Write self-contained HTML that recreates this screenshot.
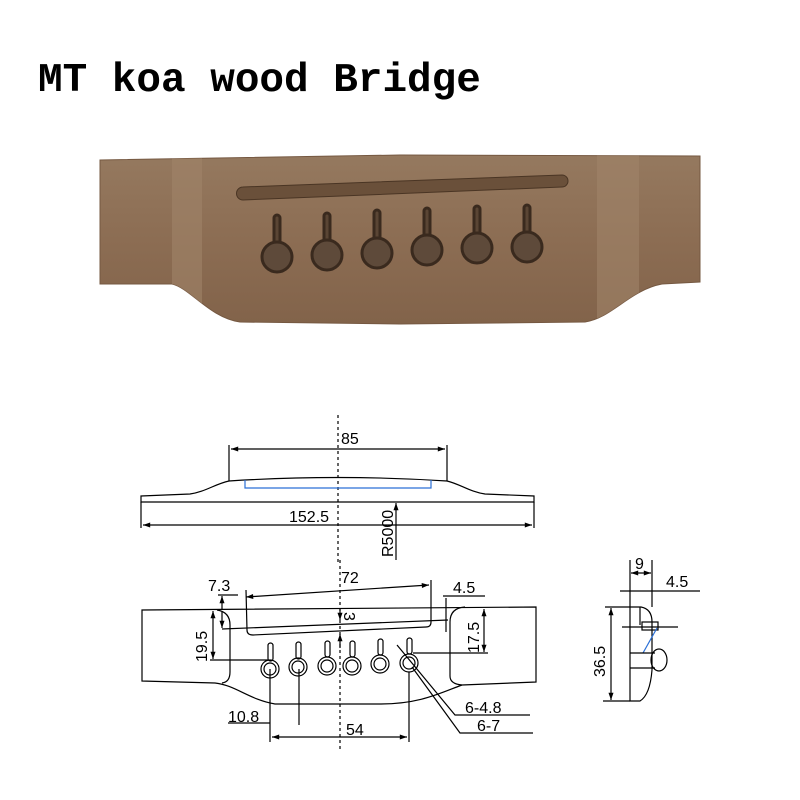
<!DOCTYPE html>
<html><head><meta charset="utf-8"><style>
html,body{margin:0;padding:0;background:#fff;width:800px;height:800px;overflow:hidden}
svg{display:block}
</style></head><body>
<svg width="800" height="800" viewBox="0 0 800 800" xmlns="http://www.w3.org/2000/svg">
<defs>
<linearGradient id="wood" x1="0" y1="0" x2="0" y2="1">
<stop offset="0" stop-color="#95795f"/><stop offset="0.5" stop-color="#8c6d53"/><stop offset="1" stop-color="#82634a"/>
</linearGradient>
<clipPath id="bc"><path d="M100,160 L400,155 L700,156 L700,282 L662,284 C630,290 612,318 585,322 L400,324 L240,322 C210,318 190,288 172,284 L100,284 Z"/></clipPath>
<marker id="a" viewBox="0 0 10 10" refX="10" refY="5" markerWidth="8" markerHeight="6" orient="auto-start-reverse"><path d="M0,1.5L10,5L0,8.5z" fill="#000"/></marker>
</defs>
<text x="38" y="91" font-family="Liberation Mono, monospace" font-size="41" font-weight="bold" fill="#000">MT koa wood Bridge</text>

<!-- photo bridge -->
<path d="M100,160 L400,155 L700,156 L700,282 L662,284 C630,290 612,318 585,322 L400,324 L240,322 C210,318 190,288 172,284 L100,284 Z" fill="url(#wood)" stroke="#755841" stroke-width="1"/>
<g clip-path="url(#bc)">
<rect x="172" y="150" width="30" height="180" fill="#a08469" opacity="0.6"/>
<rect x="597" y="150" width="42" height="180" fill="#a08469" opacity="0.6"/>
</g>
<path d="M243,187 L562,175 A6,6 0 0 1 562,187 L243,200 A6.5,6.5 0 0 1 243,187Z" fill="#6a503a" stroke="#4a3524"/>
<g stroke="#3a2a1e" stroke-width="3">
<g fill="#5a4534">
<rect x="274" y="215" width="6" height="40" rx="3"/><rect x="324" y="213" width="6" height="40" rx="3"/><rect x="374" y="210" width="6" height="40" rx="3"/><rect x="424" y="208" width="6" height="40" rx="3"/><rect x="474" y="206" width="6" height="40" rx="3"/><rect x="524" y="205" width="6" height="40" rx="3"/>
</g>
<g fill="#5e4a3a">
<circle cx="277" cy="257" r="15"/><circle cx="327" cy="255" r="15"/><circle cx="377" cy="253" r="15"/><circle cx="427" cy="250" r="15"/><circle cx="477" cy="248" r="15"/><circle cx="527" cy="247" r="15"/>
</g>
</g>

<g fill="none" stroke="#000" stroke-width="1.2">
<!-- top view -->
<line x1="338" y1="415" x2="338" y2="562" stroke-dasharray="3,3"/>
<path d="M141,496 L190,494 C205,492 215,484 229,481 Q338,474 447,481 C460,484 470,492 485,494 L534,496 L534,502 L141,502 Z"/>
<path d="M245,480 L245,488 L431,488 L431,480" stroke="#2a6fd6"/>
<line x1="229" y1="445" x2="229" y2="481"/><line x1="447" y1="445" x2="447" y2="481"/>
<line x1="231" y1="449" x2="445" y2="449" marker-start="url(#a)" marker-end="url(#a)"/>
<line x1="141" y1="502" x2="141" y2="528"/><line x1="534" y1="502" x2="534" y2="528"/>
<line x1="143" y1="525" x2="532" y2="525" marker-start="url(#a)" marker-end="url(#a)"/>
<line x1="396" y1="560" x2="396" y2="503" marker-end="url(#a)"/>

<!-- bottom view -->
<line x1="340" y1="560" x2="340" y2="752" stroke-dasharray="3,3"/>
<path d="M142,610 L536,607 L536,682 L462,685 C440,693 420,704 380,704 L275,704 C250,700 235,685 215,683 L142,681 Z"/>
<path d="M217,610 Q230,612 230,625 L230,672 Q230,682 222,683"/>
<path d="M465,607 Q450,608 450,622 L450,676 Q450,684 462,685"/>
<path d="M246,590 L247,630 Q247,635 253,635 L426,627 Q431,627 431,622 L431,580"/>
<line x1="246" y1="597" x2="429" y2="585" marker-start="url(#a)" marker-end="url(#a)"/>
<line x1="222" y1="629" x2="448" y2="620"/>
<line x1="218" y1="595" x2="238" y2="595"/><line x1="222" y1="610" x2="222" y2="596" marker-end="url(#a)"/><line x1="222" y1="612" x2="222" y2="628" marker-end="url(#a)"/>
<line x1="443" y1="596" x2="485" y2="596"/><line x1="446" y1="598" x2="446" y2="632"/>
<line x1="213" y1="611" x2="213" y2="659" marker-start="url(#a)" marker-end="url(#a)"/>
<line x1="210" y1="660" x2="268" y2="660"/>
<line x1="484" y1="609" x2="484" y2="652" marker-start="url(#a)" marker-end="url(#a)"/>
<line x1="413" y1="653" x2="488" y2="653"/>
<line x1="340" y1="608" x2="340" y2="620" marker-end="url(#a)"/><line x1="340" y1="648" x2="340" y2="634" marker-end="url(#a)"/>
<g>
<rect x="268" y="643" width="5" height="18" rx="2.5"/><circle cx="270" cy="669" r="9"/><circle cx="270" cy="669" r="6"/>
<rect x="296" y="642" width="5" height="17" rx="2.5"/><circle cx="298" cy="667" r="9"/><circle cx="298" cy="667" r="6"/>
<rect x="325" y="641" width="5" height="16" rx="2.5"/><circle cx="327" cy="666" r="9"/><circle cx="327" cy="666" r="6"/>
<rect x="350" y="641" width="5" height="16" rx="2.5"/><circle cx="352" cy="666" r="9"/><circle cx="352" cy="666" r="6"/>
<rect x="378" y="639" width="5" height="16" rx="2.5"/><circle cx="380" cy="664" r="9"/><circle cx="380" cy="664" r="6"/>
<rect x="407" y="638" width="5" height="16" rx="2.5"/><circle cx="409" cy="663" r="9"/><circle cx="409" cy="663" r="6"/>
</g>
<line x1="270" y1="669" x2="270" y2="742"/><line x1="299" y1="669" x2="299" y2="725"/>
<line x1="228" y1="723" x2="270" y2="723"/>
<line x1="409" y1="672" x2="409" y2="742"/>
<line x1="272" y1="737" x2="407" y2="737" marker-start="url(#a)" marker-end="url(#a)"/>
<polyline points="397,645 455,715 530,715"/><polyline points="412,667 460,733 533,733"/>

<!-- side view -->
<path d="M630,607 L641,607 Q652,609 652,622 L652,670 Q650,695 640,701 L630,701 Z"/>
<line x1="640" y1="607" x2="640" y2="625"/>
<rect x="642" y="622" width="16" height="8"/>
<line x1="622" y1="627" x2="678" y2="627"/>
<line x1="657" y1="628" x2="643" y2="653" stroke="#2a6fd6"/>
<line x1="630" y1="653" x2="655" y2="653"/><line x1="630" y1="668" x2="655" y2="668"/>
<ellipse cx="659" cy="660" rx="8" ry="11"/>
<line x1="630" y1="560" x2="630" y2="607"/><line x1="652" y1="560" x2="652" y2="607"/>
<line x1="631" y1="573" x2="651" y2="573" marker-start="url(#a)" marker-end="url(#a)"/>
<line x1="620" y1="591" x2="700" y2="591"/>
<line x1="611" y1="608" x2="611" y2="700" marker-start="url(#a)" marker-end="url(#a)"/>
<line x1="605" y1="607" x2="630" y2="607"/><line x1="603" y1="701" x2="630" y2="701"/>
</g>

<g font-family="Liberation Sans, Arial, sans-serif" font-size="16" fill="#000">
<text x="341" y="444">85</text>
<text x="289" y="522">152.5</text>
<text transform="translate(393,557) rotate(-90)">R5000</text>
<text x="341" y="583">72</text>
<text x="208" y="591">7.3</text>
<text x="453" y="593">4.5</text>
<text transform="translate(207,662) rotate(-90)">19.5</text>
<text transform="translate(479,653) rotate(-90)">17.5</text>
<text transform="translate(344,612) rotate(90)">3</text>
<text x="228" y="722">10.8</text>
<text x="346" y="735">54</text>
<text x="465" y="713">6-4.8</text>
<text x="477" y="731">6-7</text>
<text x="635" y="569">9</text>
<text x="666" y="587">4.5</text>
<text transform="translate(605,677) rotate(-90)">36.5</text>
</g>
</svg>
</body></html>
